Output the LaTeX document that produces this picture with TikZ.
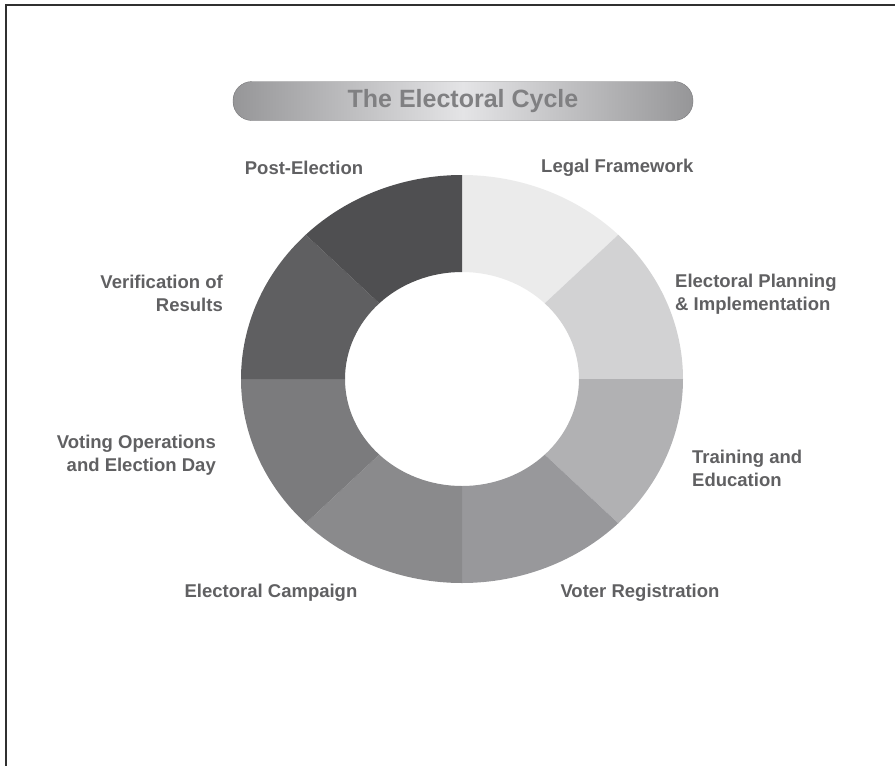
\documentclass[tikz,border=0pt]{standalone}
\usepackage{fontspec}
\setmainfont{Liberation Sans}
\usepackage{tikz}
\usetikzlibrary{positioning}
\usepackage{xcolor}
\definecolor{framegray}{RGB}{48,48,48}
\definecolor{labelgray}{RGB}{96,96,98}
\definecolor{titlegray}{RGB}{128,128,130}
\definecolor{banneredge}{RGB}{150,150,152}
\definecolor{bannermid}{RGB}{228,228,230}
\definecolor{bannerline}{RGB}{120,120,122}
% ring segments, clockwise from the top
\definecolor{segA}{RGB}{235,235,235}
\definecolor{segB}{RGB}{210,210,211}
\definecolor{segC}{RGB}{177,177,179}
\definecolor{segD}{RGB}{152,152,155}
\definecolor{segE}{RGB}{138,138,140}
\definecolor{segF}{RGB}{123,123,125}
\definecolor{segG}{RGB}{95,95,97}
\definecolor{segH}{RGB}{79,79,81}
\tikzstyle{phase} = [font=\fontsize{18.5}{23}\selectfont\bfseries, text=labelgray, inner sep=0pt]
\tikzstyle{banner} = [rectangle, rounded corners=19pt, minimum width=460pt, minimum height=39pt, draw=bannerline, left color=banneredge, right color=banneredge, middle color=bannermid, font=\fontsize{25}{30}\selectfont\bfseries, text=titlegray]

\begin{document}
\begin{tikzpicture}[x=1pt, y=1pt]
\clip (0,0) rectangle (895,-766);
% outer frame
\draw[line width=2pt, framegray] (6,-5) rectangle (910,-780);

% Title bar
\node (title) [banner] at (463,-101) {The Electoral Cycle\hspace{10pt}};

% The ring
\begin{scope}[shift={(462,-379)}]
\foreach \c [count=\i from 0] in {segA,segB,segC,segD,segE,segF,segG,segH} {
  \pgfmathsetmacro{\a}{90-45*\i}
  \pgfmathsetmacro{\b}{45-45*\i}
  \fill[\c] (\a:221 and 204) arc[start angle=\a, end angle=\b, x radius=221, y radius=204]
    -- (\b:117 and 107) arc[start angle=\b, end angle=\a, x radius=117, y radius=107] -- cycle;
}
\end{scope}

% Phase labels
\node (legal) [phase, anchor=west] at (541,-168) {Legal Framework};
\node (planning) [phase, anchor=west, align=left] at (675,-294) {Electoral Planning\\\& Implementation};
\node (training) [phase, anchor=west, align=left] at (692,-468) {Training and\\Education};
\node (voter) [phase] at (640,-593) {Voter Registration};
\node (campaign) [phase] at (271,-593) {Electoral Campaign};
\node (voting) [phase, anchor=east, align=right] at (216,-455) {Voting Operations\\and Election Day};
\node (verif) [phase, anchor=east, align=right] at (223,-293) {Verification of\\Results};
\node (post) [phase] at (304,-168) {Post-Election};
\end{tikzpicture}
\end{document}
